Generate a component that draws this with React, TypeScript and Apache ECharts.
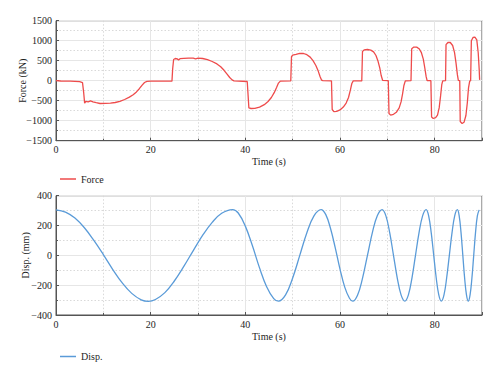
import React, { useEffect, useRef } from "react";
import * as echarts from "echarts";

const forceTime = [
  0, 1, 3, 5, 5.6, 5.85, 6.05, 6.3, 6.8, 7.3, 7.8, 8.5, 9.3, 10.5, 11.5, 12.5, 13.5, 14.5, 15.5, 16.3, 17, 17.6, 18.2, 18.7, 19.2, 20,
  24.5, 24.65, 24.85, 25.2, 25.6, 25.9, 26.2, 27, 28, 29, 29.5, 30, 31, 32, 33, 34, 34.8, 35.5, 36.1, 36.7, 37.2, 37.6,
  40.4, 40.55, 40.75, 41.2, 42, 43, 44, 44.8, 45.5, 46.1, 46.6, 47, 47.4,
  49.6, 49.75, 50, 50.7, 51.5, 52.3, 53, 53.7, 54.3, 54.9, 55.4, 55.8, 56.1, 56.4,
  58.2, 58.35, 58.7, 59.3, 60, 60.7, 61.3, 61.8, 62.2, 62.5, 62.8,
  64.6, 64.75, 65.1, 65.8, 66.5, 67.1, 67.6, 68, 68.4, 68.7, 69,
  70.2, 70.35, 70.7, 71.3, 71.9, 72.5, 72.9, 73.2, 73.5, 73.8,
  75, 75.15, 75.6, 76.2, 76.7, 77.2, 77.6, 77.9, 78.2, 78.4,
  79.2, 79.35, 79.7, 80.2, 80.6, 80.95, 81.25, 81.5, 81.7,
  82.3, 82.4, 82.8, 83.3, 83.8, 84.2, 84.5, 84.8, 85,
  85.3, 85.4, 85.8, 86.2, 86.6, 86.9, 87.15, 87.4,
  87.6, 87.75, 88.1, 88.5, 88.9, 89.2, 89.4, 89.5,
];
const forceKN = [
  0, -8, -12, -25, -50, -300, -560, -515, -530, -505, -530, -550, -570, -565, -560, -545, -515, -470, -410, -350, -280, -200, -110, -45, -15, -10,
  -10, 300, 530, 555, 545, 520, 550, 560, 565, 562, 548, 565, 555, 525, 480, 420, 350, 260, 170, 80, 20, -5,
  -20, -300, -680, -695, -690, -660, -600, -520, -420, -300, -170, -60, -10,
  -5, 600, 640, 660, 685, 680, 650, 590, 500, 380, 240, 100, 15, 0,
  -5, -720, -775, -765, -730, -660, -560, -420, -230, -70, -5,
  -5, 730, 770, 780, 765, 720, 630, 500, 320, 130, 10,
  0, -820, -860, -840, -790, -680, -530, -340, -120, -5,
  0, 800, 840, 840, 800, 700, 540, 330, 100, 5,
  0, -910, -945, -925, -860, -680, -380, -100, -5,
  0, 900, 955, 955, 880, 700, 450, 150, 10,
  0, -1020, -1070, -1040, -870, -550, -180, -10,
  0, 1000, 1080, 1090, 1020, 700, 300, 20,
];

const dispTime = [
  0, 2, 4, 6, 8, 10, 12, 14, 16, 18, 19.5,
  21, 23, 25, 27, 29, 31, 33, 35, 37.3,
  38.5, 40, 41.5, 43, 44.5, 46, 47,
  48.5, 50, 51.5, 53, 54.5, 56,
  57, 58, 59, 60, 61, 62, 62.7,
  63.7, 64.7, 65.8, 66.9, 67.9, 68.9,
  69.7, 70.5, 71.3, 72.1, 72.9, 73.7,
  74.45, 75.2, 75.95, 76.7, 77.45, 78.2,
  78.73, 79.27, 79.8, 80.33, 80.87, 81.4,
  81.97, 82.53, 83.1, 83.67, 84.23, 84.8,
  85.18, 85.57, 85.95, 86.33, 86.72, 87.1,
  87.48, 87.87, 88.25, 88.63, 89.02, 89.4,
];
const dispMM = [
  305, 290, 250, 185, 100, 5, -95, -185, -255, -298, -308,
  -296, -250, -172, -74, 32, 135, 221, 282, 307,
  284, 196, 64, -84, -210, -290, -307,
  -265, -152, 0, 152, 265, 307,
  273, 180, 50, -92, -213, -288, -307,
  -267, -161, 0, 161, 267, 307,
  265, 152, 0, -152, -265, -307,
  -265, -152, 0, 152, 265, 307,
  265, 152, 0, -152, -265, -307,
  -265, -152, 0, 152, 265, 307,
  265, 152, 0, -152, -265, -307,
  -265, -152, 0, 152, 265, 305,
];

const xTicks = { min: 0, max: 90, interval: 20 };
const forceAxis = { min: -1500, max: 1500, interval: 500 };
const dispAxis = { min: -400, max: 400, interval: 200 };

const FONT = "'Liberation Serif', 'DejaVu Serif', serif";
const TXT = "#1e1e1e";
const FS = 10;

export default function App() {
  const ref = useRef<HTMLDivElement>(null);
  useEffect(() => {
    if (!ref.current) return;
    const chart = echarts.init(ref.current, null, { renderer: "svg" });
    const forceData = forceTime.map((t, i) => [t, forceKN[i]]);
    const dispData = dispTime.map((t, i) => [t, dispMM[i]]);
    const fmt = (v: number) => String(v).replace("-", "\u2212");
    const label = { color: TXT, fontSize: FS, fontFamily: FONT, formatter: fmt };
    const common = {
      axisTick: { show: true, inside: true, length: 3, lineStyle: { color: "#555" } },
      minorTick: { show: true, splitNumber: 2, length: 2, lineStyle: { color: "#555" } },
      splitLine: { show: true, lineStyle: { color: "#e6e6e6", width: 1 } },
      minorSplitLine: { show: true, lineStyle: { color: "#d9d9d9", width: 1, type: [1.5, 2] } },
      nameTextStyle: { color: TXT, fontSize: FS, fontFamily: FONT },
    };
    const xAxisBase = (gridIndex: number) => ({
      type: "value",
      gridIndex,
      min: xTicks.min,
      max: xTicks.max,
      interval: xTicks.interval,
      name: "Time (s)",
      nameLocation: "middle",
      nameGap: 16,
      axisLine: { show: true, onZero: false, lineStyle: { color: "#555", width: 1 } },
      axisLabel: { ...label, margin: 4, showMaxLabel: false },
      ...common,
    });
    const yAxisBase = (gridIndex: number, ax: any, name: string, gap: number) => ({
      type: "value",
      gridIndex,
      min: ax.min,
      max: ax.max,
      interval: ax.interval,
      name,
      nameLocation: "middle",
      nameGap: gap,
      nameMoveOverlap: false,
      axisLine: { show: true, onZero: false, lineStyle: { color: "#555", width: 1 } },
      axisLabel: { ...label, margin: 4 },
      ...common,
    });
    const legendBase = {
      left: 55,
      icon: "rect",
      itemWidth: 16,
      itemHeight: 1.5,
      textStyle: { color: TXT, fontSize: FS, fontFamily: FONT },
    };
    chart.setOption({
      animation: false,
      backgroundColor: "#ffffff",
      grid: [
        { left: 56, top: 20.7, width: 426, height: 120, show: true, borderColor: "#555", borderWidth: 1, backgroundColor: "transparent" },
        { left: 56, top: 195.7, width: 426, height: 119.3, show: true, borderColor: "#555", borderWidth: 1, backgroundColor: "transparent" },
      ],
      legend: [
        { ...legendBase, top: 169, data: ["Force"] },
        { ...legendBase, top: 346.5, data: ["Disp."] },
      ],
      xAxis: [xAxisBase(0), xAxisBase(1)],
      yAxis: [
        yAxisBase(0, forceAxis, "Force (kN)", 29),
        yAxisBase(1, dispAxis, "Disp. (mm)", 25.5),
      ],
      series: [
        {
          name: "Force",
          type: "line",
          xAxisIndex: 0,
          yAxisIndex: 0,
          data: forceData,
          showSymbol: false,
          symbol: "none",
          color: "#ee4b4b",
          lineStyle: { color: "#ee4b4b", width: 1.3 },
        },
        {
          name: "Disp.",
          type: "line",
          xAxisIndex: 1,
          yAxisIndex: 1,
          data: dispData,
          smooth: 0.4,
          showSymbol: false,
          symbol: "none",
          color: "#5a9bd8",
          lineStyle: { color: "#5a9bd8", width: 1.3 },
        },
      ],
    });
    return () => chart.dispose();
  }, []);
  return <div ref={ref} style={{ position: "fixed", left: 0, top: 0, width: 500, height: 377 }} />;
}
